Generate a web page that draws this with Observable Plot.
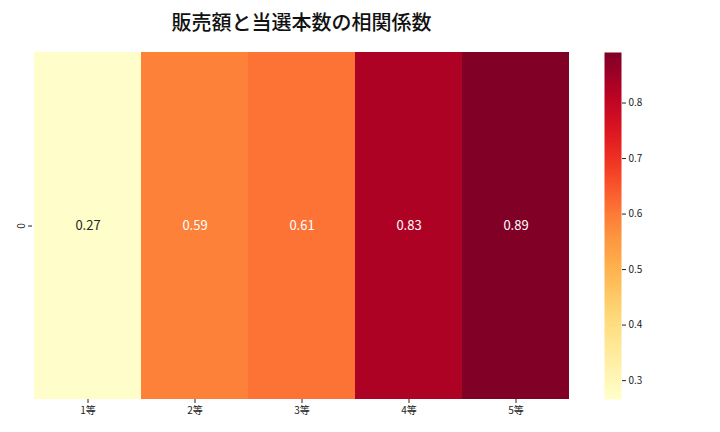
<!DOCTYPE html>
<html>
<head>
<meta charset="utf-8">
<script src="https://cdn.jsdelivr.net/npm/d3@7"></script>
<script src="https://cdn.jsdelivr.net/npm/@observablehq/plot@0.6"></script>
<style>
  html, body { margin: 0; padding: 0; background: #fff; }
  #wrap { position: relative; width: 720px; height: 432px; font-family: "Noto Sans CJK JP", "Noto Sans", sans-serif; }
  #title { position: absolute; left: 0; width: 603px; top: 7px; text-align: center; font-size: 20px; font-weight: 500; color: #111; margin: 0; }
  #main { position: absolute; left: 0; top: 0; }
  #cbar { position: absolute; left: 590px; top: 0; }
</style>
</head>
<body>
<div id="wrap">
  <div id="main"></div>
  <div id="cbar"></div>
  <div id="title">販売額と当選本数の相関係数</div>
</div>
<script>
const categories = ["1等", "2等", "3等", "4等", "5等"];
const values = [0.27, 0.59, 0.61, 0.83, 0.89];
const rowLabels = ["0"];
const colorTicks = [0.3, 0.4, 0.5, 0.6, 0.7, 0.8];
const colorDomain = [0.266, 0.891];

const cells = categories.map((c, i) => ({cat: c, row: rowLabels[0], value: values[i]}));
const font = "Noto Sans CJK JP, Noto Sans, sans-serif";

const main = Plot.plot({
  width: 720,
  height: 432,
  marginTop: 52,
  marginBottom: 33,
  marginLeft: 32,
  marginRight: 149,
  style: {fontFamily: font, background: "white", color: "#222"},
  x: {domain: categories, padding: 0, label: null},
  y: {domain: rowLabels, padding: 0, label: null},
  color: {type: "linear", scheme: "YlOrRd", domain: colorDomain},
  marks: [
    Plot.cell(cells, {x: "cat", y: "row", fill: "value", inset: 0}),
    Plot.text(cells.filter(d => d.value < 0.4), {x: "cat", y: "row", text: d => d.value.toFixed(2), fill: "#262626", fontSize: 13}),
    Plot.text(cells.filter(d => d.value >= 0.4), {x: "cat", y: "row", text: d => d.value.toFixed(2), fill: "white", fontSize: 13}),
    Plot.axisX({tickSize: 4, tickPadding: 3, fontSize: 10, label: null}),
    Plot.axisY({tickSize: 4, tickPadding: 4, fontSize: 10, label: null, tickRotate: -90})
  ]
});
document.getElementById("main").appendChild(main);

const cbar = Plot.plot({
  width: 130,
  height: 432,
  marginTop: 52,
  marginBottom: 33,
  marginLeft: 14,
  marginRight: 99,
  style: {fontFamily: font, background: "transparent", color: "#222"},
  x: {domain: [0, 1], axis: null},
  y: {domain: colorDomain, label: null},
  color: {type: "linear", scheme: "YlOrRd", domain: colorDomain},
  marks: [
    Plot.raster({x1: 0, x2: 1, y1: colorDomain[0], y2: colorDomain[1], width: 1, height: 347, fill: (x, y) => y, imageRendering: "auto"}),
    Plot.axisY({anchor: "right", ticks: colorTicks, tickFormat: d => d.toFixed(1), tickSize: 4, tickPadding: 3, fontSize: 10, label: null})
  ]
});
document.getElementById("cbar").appendChild(cbar);
</script>
</body>
</html>
